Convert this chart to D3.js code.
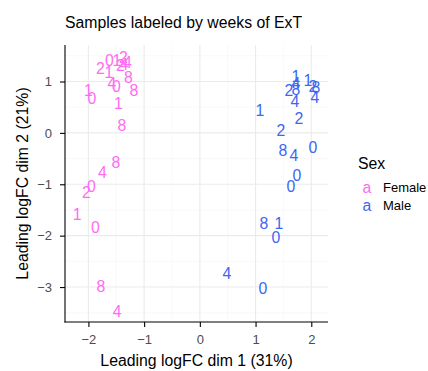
<!DOCTYPE html>
<html>
<head>
<meta charset="utf-8">
<script src="https://cdn.jsdelivr.net/npm/d3@7"></script>
<style>
  body { margin: 0; background: #fff; }
  text { font-family: "Liberation Sans", Arial, sans-serif; }
</style>
</head>
<body>
<svg id="chart" width="428" height="371"></svg>
<script>
// 1. data
const sexes = ['Female', 'Male'];
const colors = ['#FF6CF2', '#3D67F2'];

const femaleWeek = ['0', '1', '2', '4', '2', '4', '2', '1', '8', '4', '0', '8', '1', '0', '1', '8', '8', '4', '0', '2', '1', '0', '8', '4'];
const femaleX = [-1.625, -1.49, -1.373, -1.302, -1.427, -1.364, -1.786, -1.634, -1.284, -1.58, -1.499, -1.185, -2.002, -1.939, -1.463, -1.40, -1.508, -1.747, -1.944, -2.034, -2.203, -1.873, -1.777, -1.485];
const femaleY = [1.419, 1.419, 1.477, 1.38, 1.322, 1.341, 1.262, 1.184, 1.087, 0.97, 0.901, 0.833, 0.833, 0.677, 0.58, 0.15, -0.566, -0.773, -1.04, -1.151, -1.586, -1.846, -2.985, -3.473];

const maleWeek = ['1', '4', '8', '2', '4', '1', '2', '8', '4', '1', '2', '2', '8', '4', '0', '0', '0', '8', '1', '0', '4', '0'];
const maleX = [1.724, 1.724, 1.724, 1.598, 1.706, 1.939, 2.029, 2.083, 2.065, 1.077, 1.777, 1.454, 1.49, 1.688, 2.029, 1.741, 1.634, 1.149, 1.418, 1.364, 0.485, 1.131];
const maleY = [1.106, 0.96, 0.85, 0.833, 0.619, 1.028, 0.911, 0.892, 0.697, 0.443, 0.287, 0.053, -0.338, -0.435, -0.279, -0.825, -1.04, -1.762, -1.762, -2.035, -2.738, -3.03];

const xTicks = [-2, -1, 0, 1, 2];
const yTicks = [-3, -2, -1, 0, 1];
const xMinor = [-1.5, -0.5, 0.5, 1.5];
const yMinor = [-3.5, -2.5, -1.5, -0.5, 0.5, 1.5];

const points = [];
femaleWeek.forEach((w, i) => points.push({ sex: 'Female', week: w, x: femaleX[i], y: femaleY[i] }));
maleWeek.forEach((w, i) => points.push({ sex: 'Male', week: w, x: maleX[i], y: maleY[i] }));

// 2. panel box
const panel = { left: 65, right: 328, top: 45, bottom: 322 };

const xScale = d3.scaleLinear().domain([-2.42, 2.30]).range([panel.left, panel.right]);
const yScale = d3.scaleLinear().domain([-3.68, 1.71]).range([panel.bottom, panel.top]);
const color = d3.scaleOrdinal().domain(sexes).range(colors);

const svg = d3.select('#chart');

// 3. grid lines, minor first
const grid = svg.append('g').attr('class', 'grid');
grid.selectAll('.xminor').data(xMinor).enter().append('line')
  .attr('x1', d => xScale(d)).attr('x2', d => xScale(d))
  .attr('y1', panel.top).attr('y2', panel.bottom)
  .attr('stroke', '#F5F5F5').attr('stroke-width', 0.6);
grid.selectAll('.yminor').data(yMinor).enter().append('line')
  .attr('x1', panel.left).attr('x2', panel.right)
  .attr('y1', d => yScale(d)).attr('y2', d => yScale(d))
  .attr('stroke', '#F5F5F5').attr('stroke-width', 0.6);
grid.selectAll('.xmajor').data(xTicks).enter().append('line')
  .attr('x1', d => xScale(d)).attr('x2', d => xScale(d))
  .attr('y1', panel.top).attr('y2', panel.bottom)
  .attr('stroke', '#EBEBEB').attr('stroke-width', 1.1);
grid.selectAll('.ymajor').data(yTicks).enter().append('line')
  .attr('x1', panel.left).attr('x2', panel.right)
  .attr('y1', d => yScale(d)).attr('y2', d => yScale(d))
  .attr('stroke', '#EBEBEB').attr('stroke-width', 1.1);

// 4. axes
const fmt = d => d < 0 ? '\u2212' + Math.abs(d) : String(d);

const xAxis = svg.append('g')
  .attr('transform', `translate(0,${panel.bottom})`)
  .call(d3.axisBottom(xScale).tickValues(xTicks).tickFormat(fmt).tickSize(5).tickPadding(8));
const yAxis = svg.append('g')
  .attr('transform', `translate(${panel.left},0)`)
  .call(d3.axisLeft(yScale).tickValues(yTicks).tickFormat(fmt).tickSize(5).tickPadding(8));

[xAxis, yAxis].forEach(ax => {
  ax.select('.domain').remove();
  ax.selectAll('line').attr('stroke', '#000').attr('stroke-width', 1.1);
  ax.selectAll('text').attr('fill', '#4D4D4D').style('font-size', '13px')
    .style('font-family', '"Liberation Sans", Arial, sans-serif');
});

svg.append('line')
  .attr('x1', panel.left).attr('x2', panel.left).attr('y1', panel.top).attr('y2', panel.bottom + 0.5)
  .attr('stroke', '#000').attr('stroke-width', 1.1);
svg.append('line')
  .attr('x1', panel.left - 0.5).attr('x2', panel.right).attr('y1', panel.bottom).attr('y2', panel.bottom)
  .attr('stroke', '#000').attr('stroke-width', 1.1);

// 5. text points
svg.append('g').selectAll('.pt')
  .data(points).enter()
  .append('text')
  .attr('class', 'pt')
  .attr('x', d => xScale(d.x))
  .attr('y', d => yScale(d.y))
  .attr('dy', '0.36em')
  .attr('text-anchor', 'middle')
  .attr('fill', d => color(d.sex))
  .style('font-size', '15.8px')
  .text(d => d.week);

// 6. titles
svg.append('text')
  .attr('x', panel.left).attr('y', 28)
  .style('font-size', '15.8px')
  .attr('fill', '#000')
  .text('Samples labeled by weeks of ExT');

svg.append('text')
  .attr('x', (panel.left + panel.right) / 2).attr('y', 366)
  .attr('text-anchor', 'middle')
  .style('font-size', '15.8px')
  .text('Leading logFC dim 1 (31%)');

svg.append('text')
  .attr('transform', `translate(28,${(panel.top + panel.bottom) / 2}) rotate(-90)`)
  .attr('text-anchor', 'middle')
  .style('font-size', '15.8px')
  .text('Leading logFC dim 2 (21%)');

// 7. legend
const legend = svg.append('g').attr('transform', 'translate(358,0)');
legend.append('text')
  .attr('x', 0).attr('y', 169)
  .style('font-size', '15.8px')
  .text('Sex');

const item = legend.selectAll('.item')
  .data(sexes).enter()
  .append('g')
  .attr('class', 'item')
  .attr('transform', (d, i) => `translate(0,${187 + i * 18})`);
item.append('text')
  .attr('x', 9).attr('dy', '0.36em')
  .attr('text-anchor', 'middle')
  .attr('fill', d => color(d))
  .style('font-size', '15.8px')
  .text('a');
item.append('text')
  .attr('x', 25).attr('dy', '0.36em')
  .style('font-size', '13px')
  .text(d => d);
</script>
</body>
</html>
